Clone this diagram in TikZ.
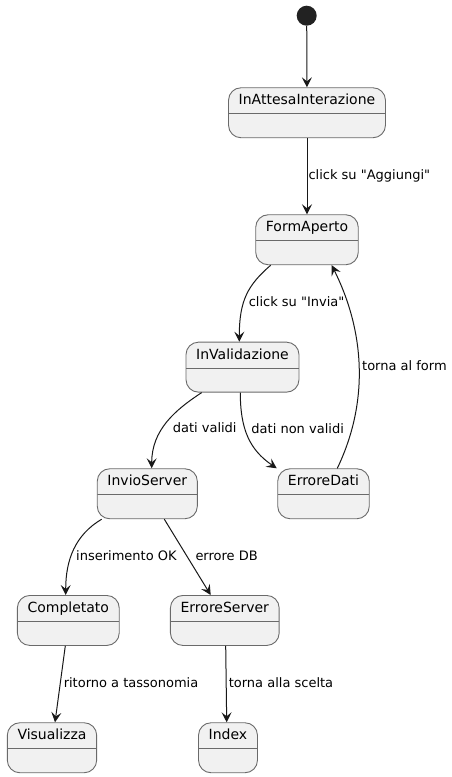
\documentclass[tikz,border=0pt]{standalone}
\usepackage{fontspec}
\setmainfont{DejaVu Sans}[Ligatures=TeXOff]
\usetikzlibrary{arrows.meta}
\definecolor{stfill}{HTML}{F1F1F1}
\definecolor{stline}{HTML}{181818}
\definecolor{stborder}{HTML}{6A6A6A}
\definecolor{startc}{HTML}{222222}
\begin{document}
\begin{tikzpicture}[x=1pt,y=-1pt,
  state/.style={draw=stborder, line width=0.9pt, fill=stfill, rounded corners=12.5pt,
    anchor=north, inner xsep=10.2pt, inner ysep=0pt, text height=17pt, text depth=33pt,
    font=\fontsize{14}{16}\selectfont,
    path picture={\draw[stborder, line width=0.9pt]
      ([yshift=-26pt]path picture bounding box.north west) --
      ([yshift=-26pt]path picture bounding box.north east);}},
  tr/.style={draw=stline, line width=1pt, -{Stealth[length=10pt,width=10pt,inset=4pt]}},
  lbl/.style={font=\fontsize{13}{15}\selectfont, anchor=west, inner sep=0pt,
    text height=9.5pt, text depth=2.5pt, text=black}]
\useasboundingbox (0,0) rectangle (452,777);

\node[circle, fill=startc, minimum size=20pt, inner sep=0pt] (start) at (306.7,15.7) {};
\node[state] (ia) at (307,87.3) {InAttesaInterazione};
\node[state] (fa) at (307,214.3) {FormAperto};
\node[state] (iv) at (242.5,341.7) {InValidazione};
\node[state] (is) at (147.3,468.3) {InvioServer};
\node[state] (ed) at (323.5,468.3) {ErroreDati};
\node[state] (comp) at (68.3,595) {Completato};
\node[state] (es) at (224.8,595) {ErroreServer};
\node[state] (vis) at (52,722.3) {Visualizza};
\node[state] (idx) at (228,722.3) {Index};

\draw[tr] (start) -- (ia);
\draw[tr] (ia) -- (fa) node[lbl, pos=0.5, xshift=1pt] {click su "Aggiungi"};
\draw[tr] ([xshift=-36.3pt]fa.south) .. controls (248,285) and (239.3,300) .. ([xshift=-3.2pt]iv.north)
  node[lbl, pos=0.5, xshift=1.8pt, yshift=-7.4pt] {click su "Invia"};
\draw[tr] ([xshift=-40.8pt]iv.south) .. controls (175,410) and (151.7,430) .. ([xshift=4.4pt]is.north)
  node[lbl, pos=0.5, xshift=5.6pt, yshift=-6.8pt] {dati validi};
\draw[tr] ([xshift=-2.2pt]iv.south) .. controls (240.3,430) and (250,450) .. ([xshift=-46.8pt]ed.north)
  node[lbl, pos=0.5, xshift=2.5pt, yshift=8.1pt] {dati non validi};
\draw[tr] ([xshift=13.8pt]ed.north) .. controls (370,400) and (364,330) .. ([xshift=24.7pt]fa.south)
  node[lbl, pos=0.5, xshift=2.8pt, yshift=-1.3pt] {torna al form};
\draw[tr] ([xshift=-45.6pt]is.south) .. controls (75,535) and (65.7,560) .. ([xshift=-2.6pt]comp.north)
  node[lbl, pos=0.5, xshift=2pt, yshift=-7pt] {inserimento OK};
\draw[tr] ([xshift=17pt]is.south) -- ([xshift=-14.1pt]es.north)
  node[lbl, pos=0.5, xshift=7.5pt] {errore DB};
\draw[tr] ([xshift=-3pt]comp.south) -- ([xshift=3pt]vis.north)
  node[lbl, pos=0.5, xshift=3.1pt] {ritorno a tassonomia};
\draw[tr] ([xshift=0.9pt]es.south) -- ([xshift=-1.3pt]idx.north)
  node[lbl, pos=0.5, xshift=2.1pt] {torna alla scelta};
\end{tikzpicture}
\end{document}
